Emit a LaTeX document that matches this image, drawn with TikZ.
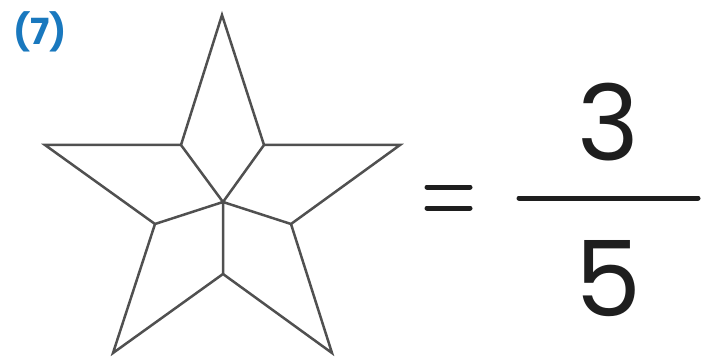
\documentclass[tikz,border=0pt]{standalone}
\usepackage{fontspec}
\setmainfont{Poppins}
\definecolor{starline}{RGB}{80,80,80}
\definecolor{labelblue}{RGB}{25,120,190}
\definecolor{ink}{RGB}{30,30,30}
\begin{document}
\begin{tikzpicture}[x=1pt,y=-1pt,
  starstyle/.style={draw=starline,line width=2.5pt,line join=miter},
  barstyle/.style={draw=ink,line width=5pt,line cap=round},
  digit/.style={text=ink,font=\fontsize{105}{105}\selectfont,inner sep=0pt}]
\useasboundingbox (0,0) rectangle (711,358);
\node[text=labelblue,font=\fontsize{36}{36}\selectfont\bfseries,anchor=west,inner sep=0pt] (lbl) at (13,32) {(7)};
% outer points
\coordinate (T) at (222,15);
\coordinate (L) at (45,145);
\coordinate (R) at (400,145);
\coordinate (BL) at (113,353);
\coordinate (BR) at (332,353);
% inner points
\coordinate (iL) at (181,145);
\coordinate (iR) at (264,145);
\coordinate (iLL) at (155,224);
\coordinate (iLR) at (291,224);
\coordinate (iB) at (223,274);
\coordinate (C) at (223,202);
\draw[starstyle] (T) -- (iR) -- (R) -- (iLR) -- (BR) -- (iB) -- (BL) -- (iLL) -- (L) -- (iL) -- cycle;
\draw[starstyle] (iL) -- (C) (iR) -- (C) (iLL) -- (C) (iLR) -- (C) (iB) -- (C);
% equals sign
\coordinate (e1a) at (427,187);
\coordinate (e1b) at (470,187);
\coordinate (e2a) at (427,208);
\coordinate (e2b) at (470,208);
\draw[barstyle] (e1a) -- (e1b) (e2a) -- (e2b);
% fraction
\coordinate (fa) at (519,198);
\coordinate (fb) at (698,198);
\draw[barstyle] (fa) -- (fb);
\node[digit] (num) at (608,122) {3};
\node[digit] (den) at (608,279) {5};
\end{tikzpicture}
\end{document}
